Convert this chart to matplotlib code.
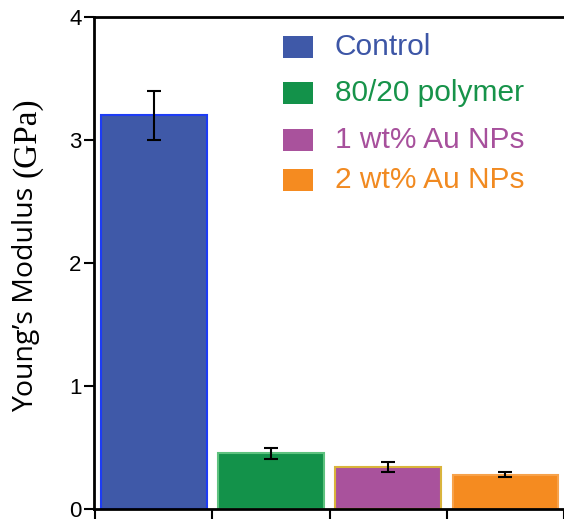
import matplotlib
matplotlib.use("Agg")
import matplotlib.pyplot as plt
from matplotlib.patches import Rectangle

categories = ["Control", "80/20 polymer", "1 wt% Au NPs", "2 wt% Au NPs"]
values = [3.2, 0.455, 0.34, 0.28]
errors = [0.2, 0.045, 0.04, 0.02]
fill_colors = ["#3f59a8", "#13924a", "#a9529c", "#f58b20"]
edge_colors = ["#1d3cf5", "#5ec27f", "#d9b43c", "#f7a24a"]
text_colors = ["#3d56a6", "#17934a", "#a7509c", "#f18a21"]
yticks = [0, 1, 2, 3, 4]

W, H = 564, 519
fig = plt.figure(figsize=(W / 100, H / 100), dpi=100)
ax = fig.add_axes([94 / W, 1 - 509 / H, 1 - 94 / W + 0.002, (509 - 17) / H])

x = list(range(len(categories)))
ax.bar(x, values, width=0.9, color=fill_colors, edgecolor=edge_colors, linewidth=1.5, zorder=2)
ax.errorbar(x, values, yerr=errors, fmt="none", ecolor="black", elinewidth=1.5,
            capsize=5, capthick=1.5, zorder=3)

ax.set_xlim(-0.51, 3.51)
ax.set_ylim(0, 4)
ax.set_yticks(yticks)
ax.set_yticklabels([str(t) for t in yticks], fontfamily="Liberation Sans", fontsize=16)
ax.set_xticks([-0.5, 0.5, 1.5, 2.5, 3.5])
ax.set_xticklabels([])
ax.tick_params(axis="y", direction="out", length=7, width=1.5, pad=2)
ax.tick_params(axis="x", direction="out", length=8, width=1.5)
for s in ax.spines.values():
    s.set_linewidth(2)
ax.spines["right"].set_visible(False)

# y label: sans part + serif part
fig.text(26 / W, 1 - 299 / H, "Young\u2019s Modulus", rotation=90, ha="center", va="center",
         fontfamily="Open Sans", fontsize=20.5)
fig.text(27 / W, 1 - 137 / H, "(GPa)", rotation=90, ha="center", va="center",
         fontfamily="Liberation Serif", fontsize=24)

# legend
leg_y = [47, 93, 140, 180]
for lab, fc, tc, yy in zip(categories, fill_colors, text_colors, leg_y):
    fig.patches.append(Rectangle((283 / W, 1 - (yy + 11) / H), 30 / W, 22 / H,
                                 transform=fig.transFigure, facecolor=fc,
                                 edgecolor="none", figure=fig))
    fig.text(335 / W, 1 - yy / H, lab, color=tc, ha="left", va="center",
             fontfamily="Liberation Sans", fontsize=21.5)

fig.savefig("out.png", dpi=100)
